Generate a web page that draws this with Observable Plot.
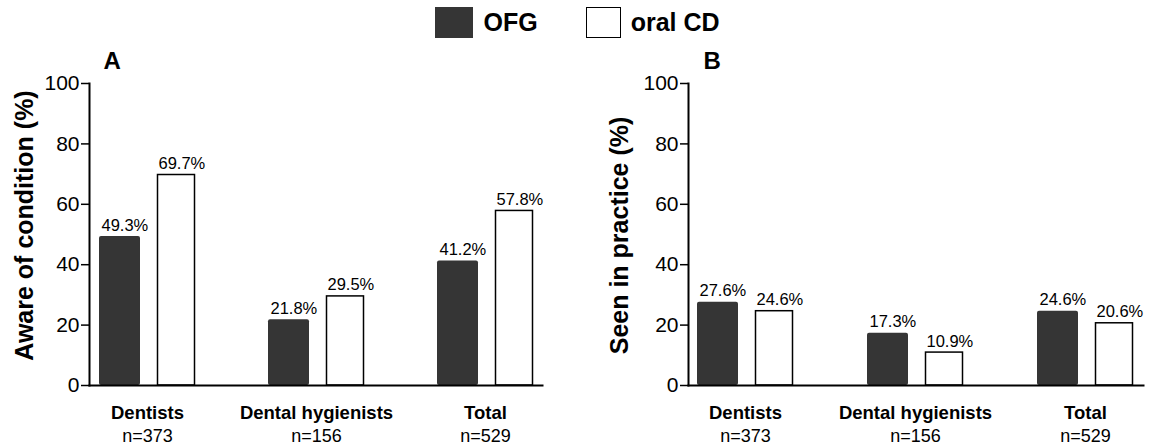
<!DOCTYPE html>
<html>
<head>
<meta charset="utf-8">
<script src="https://cdn.jsdelivr.net/npm/d3@7"></script>
<script src="https://cdn.jsdelivr.net/npm/@observablehq/plot@0.6"></script>
<style>
  body { margin: 0; background: #fff; font-family: "Liberation Sans", Arial, sans-serif; }
  #wrap { width: 1149px; height: 448px; overflow: hidden; }
  #legend { height: 44px; display: flex; justify-content: center; align-items: center; font-weight: bold; font-size: 25px; color: #000; padding-left: 6px; box-sizing: border-box; }
  .sw { height: 31px; box-sizing: border-box; margin-right: 10px; }
  .lab { margin-right: 48px; }
  .lab:last-child { margin-right: 0; }
  #row { display: flex; }
  #row svg g[aria-label="y-axis tick label"] { font-size: 21px !important; }
</style>
</head>
<body>
<div id="wrap">
  <div id="legend"></div>
  <div id="row"></div>
</div>
<script>
const groups = ["Dentists", "Dental hygienists", "Total"];
const nLabels = ["n=373", "n=156", "n=529"];
const series = ["OFG", "oral CD"];
const seriesColors = ["#353535", "#ffffff"];
const awareOFG = [49.3, 21.8, 41.2];
const awareCD = [69.7, 29.5, 57.8];
const seenOFG = [27.6, 17.3, 24.6];
const seenCD = [24.6, 10.9, 20.6];
const yTicks = [0, 20, 40, 60, 80, 100];

// Legend
const legend = document.getElementById("legend");
series.forEach((s, i) => {
  const sw = document.createElement("div");
  sw.className = "sw";
  sw.style.width = i === 0 ? "38px" : "35px";
  sw.style.background = seriesColors[i];
  sw.style.border = i === 0 ? "none" : "1.5px solid #000";
  const lab = document.createElement("span");
  lab.className = "lab";
  lab.textContent = s;
  legend.append(sw, lab);
});

function panel({letter, yLabel, ofg, cd, width, marginLeft, marginRight, labelDx, labelDy, letterDx}) {
  const ofgData = groups.map((g, i) => ({group: g, value: ofg[i]}));
  const cdData = groups.map((g, i) => ({group: g, value: cd[i]}));
  const catData = groups.map((g, i) => ({group: g, n: nLabels[i]}));
  return Plot.plot({
    width, height: 404,
    marginLeft, marginRight, marginTop: 39, marginBottom: 63,
    style: {fontFamily: '"Liberation Sans", Arial, sans-serif', color: "#000", background: "#fff", overflow: "visible"},
    x: {type: "band", domain: groups, paddingInner: 0.434, paddingOuter: 0.0535, align: 0.5, axis: null},
    y: {domain: [0, 100], axis: null},
    marks: [
      Plot.barY(ofgData, {x: "group", y: "value", fill: seriesColors[0], insetRight: 55, rx: 2}),
      Plot.barY(cdData, {x: "group", y: "value", fill: seriesColors[1], stroke: "#000", strokeWidth: 1.5, insetLeft: 58.5, insetRight: 0.5}),
      Plot.text(ofgData, {x: "group", y: "value", text: d => d.value.toFixed(1) + "%", textAnchor: "start", lineAnchor: "bottom", dx: -46, dy: -6, fontSize: 16.5}),
      Plot.text(cdData, {x: "group", y: "value", text: d => d.value.toFixed(1) + "%", textAnchor: "start", lineAnchor: "bottom", dx: 11, dy: -6, fontSize: 16.5}),
      Plot.frame({anchor: "left", strokeWidth: 2}),
      Plot.frame({anchor: "bottom", strokeWidth: 2}),
      Plot.axisY({ticks: yTicks, tickSize: 8, tickPadding: 2, fontSize: 21, label: null, strokeWidth: 1.5}),
      Plot.text(catData, {x: "group", text: "group", frameAnchor: "bottom", lineAnchor: "bottom", dy: 33, fontSize: 18.5, fontWeight: "bold"}),
      Plot.text(catData, {x: "group", text: "n", frameAnchor: "bottom", lineAnchor: "bottom", dy: 56, fontSize: 18}),
      Plot.text([yLabel], {frameAnchor: "left", rotate: -90, dx: labelDx, dy: labelDy, fontSize: 25, fontWeight: "bold", textAnchor: "middle", lineAnchor: "middle"}),
      Plot.text([letter], {frameAnchor: "top-left", textAnchor: "start", lineAnchor: "bottom", dx: letterDx, dy: -15, fontSize: 24, fontWeight: "bold"})
    ]
  });
}

const row = document.getElementById("row");
row.append(
  panel({letter: "A", yLabel: "Aware of condition (%)", ofg: awareOFG, cd: awareCD, width: 575, marginLeft: 89, marginRight: 33, labelDx: -65, labelDy: -9, letterDx: 14}),
  panel({letter: "B", yLabel: "Seen in practice (%)", ofg: seenOFG, cd: seenCD, width: 574, marginLeft: 113, marginRight: 6, labelDx: -69, labelDy: 1, letterDx: 15})
);
</script>
</body>
</html>
